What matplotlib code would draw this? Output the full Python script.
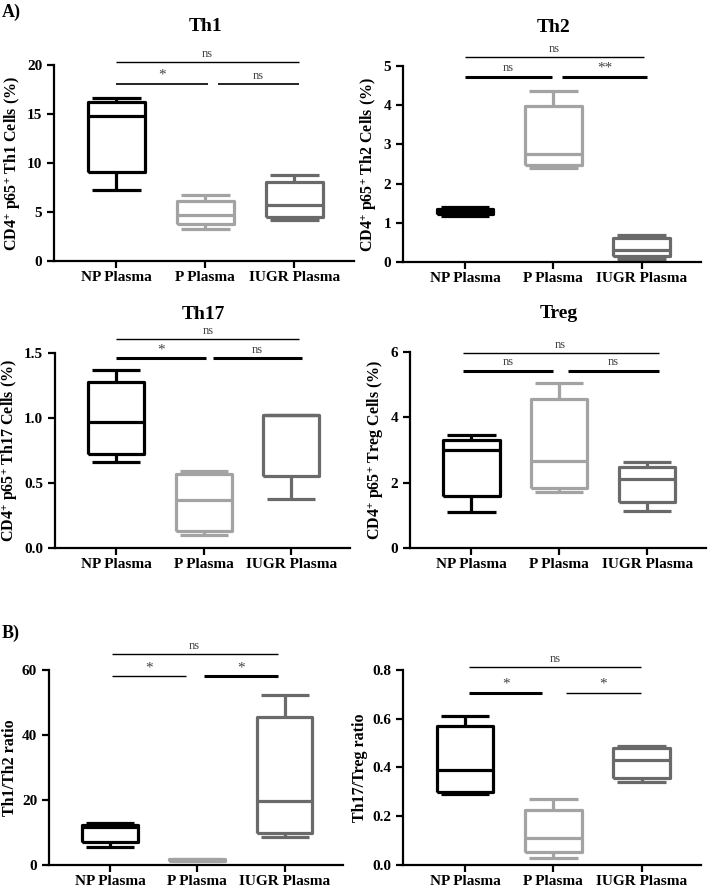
import matplotlib
matplotlib.use('Agg')
import matplotlib.pyplot as plt

plt.rcParams['font.family'] = ['Liberation Serif', 'DejaVu Serif']
plt.rcParams['font.weight'] = 'bold'
plt.rcParams['mathtext.fontset'] = 'custom'
plt.rcParams['mathtext.rm'] = 'Liberation Serif:bold'
plt.rcParams['mathtext.bf'] = 'Liberation Serif:bold'
plt.rcParams['mathtext.it'] = 'Liberation Serif:bold:italic'

groups = ['NP Plasma', 'P Plasma', 'IUGR Plasma']
colors = ['#000000', '#a3a3a3', '#6a6a6a']

# per group: whisker low, q1, median, q3, whisker high
th1 = [[7.2, 9.1, 14.8, 16.2, 16.6], [3.3, 3.8, 4.7, 6.1, 6.7], [4.2, 4.5, 5.7, 8.1, 8.8]]
th2 = [[1.17, 1.22, 1.28, 1.35, 1.40], [2.40, 2.48, 2.75, 3.97, 4.35], [0.08, 0.15, 0.31, 0.61, 0.70]]
th17 = [[0.66, 0.72, 0.97, 1.28, 1.37], [0.10, 0.13, 0.37, 0.57, 0.59], [0.38, 0.55, 1.02, 1.02, 1.02]]
treg = [[1.10, 1.60, 3.00, 3.30, 3.45], [1.70, 1.85, 2.65, 4.55, 5.05], [1.12, 1.42, 2.12, 2.47, 2.62]]
th1_th2 = [[5.5, 7.2, 11.8, 12.3, 13.0], [1.2, 1.3, 1.5, 1.8, 1.9], [8.5, 9.8, 19.8, 45.5, 52.3]]
th17_treg = [[0.29, 0.30, 0.39, 0.57, 0.61], [0.03, 0.055, 0.11, 0.225, 0.27], [0.34, 0.355, 0.43, 0.48, 0.49]]

th1_ticks = [0, 5, 10, 15, 20]
th2_ticks = [0, 1, 2, 3, 4, 5]
th17_ticks = ['0.0', '0.5', '1.0', '1.5']
treg_ticks = [0, 2, 4, 6]
th1_th2_ticks = [0, 20, 40, 60]
th17_treg_ticks = ['0.0', '0.2', '0.4', '0.6', '0.8']

# significance brackets: x0, x1, y, label, linewidth
th1_sig = [(0, 2.05, 20.3, 'ns', 1.0), (0, 1.03, 18.06, '*', 1.2), (1.14, 2.05, 18.06, 'ns', 1.2)]
th2_sig = [(0, 2.03, 5.22, 'ns', 1.0), (0, 0.98, 4.73, 'ns', 2.2), (1.10, 2.06, 4.73, '**', 2.2)]
th17_sig = [(0, 2.09, 1.605, 'ns', 1.0), (0, 1.02, 1.459, '*', 2.2), (1.10, 2.12, 1.459, 'ns', 2.2)]
treg_sig = [(-0.10, 2.13, 5.98, 'ns', 1.0), (-0.10, 0.93, 5.43, 'ns', 2.2), (1.10, 2.14, 5.43, 'ns', 2.2)]
th1_th2_sig = [(0.02, 1.92, 64.8, 'ns', 1.0), (0.02, 0.875, 58.0, '*', 1.0), (1.08, 1.93, 58.0, '*', 2.2)]
th17_treg_sig = [(0.05, 1.99, 0.812, 'ns', 1.0), (0.05, 0.87, 0.707, '*', 2.2), (1.14, 1.99, 0.707, '*', 1.0)]


def draw_panel(ax, data, ticks, ylabel, sig, title=None):
    stats = [dict(whislo=d[0], q1=d[1], med=d[2], q3=d[3], whishi=d[4], fliers=[]) for d in data]
    bp = ax.bxp(stats, positions=[0, 1, 2], widths=0.64, capwidths=0.55,
                showfliers=False, manage_ticks=False)
    for i, c in enumerate(colors):
        for art in [bp['boxes'][i], bp['medians'][i], bp['whiskers'][2*i], bp['whiskers'][2*i+1],
                    bp['caps'][2*i], bp['caps'][2*i+1]]:
            art.set_color(c)
            art.set_linewidth(2.3)
            art.set_solid_capstyle('butt')

    vals = [float(t) for t in ticks]
    ax.set_yticks(vals)
    ax.set_yticklabels([str(t) for t in ticks])
    ax.set_ylim(0, vals[-1])
    ax.set_xlim(-0.7, 2.67)
    ax.set_xticks([0, 1, 2])
    ax.set_xticklabels(groups)
    ax.spines['top'].set_visible(False)
    ax.spines['right'].set_visible(False)
    ax.spines['left'].set_linewidth(1.6)
    ax.spines['bottom'].set_linewidth(1.6)
    ax.tick_params(direction='out', length=5, width=1.6, labelsize=11)
    ax.tick_params(axis='x', pad=2.5)
    ax.set_ylabel(ylabel, fontsize=11.5, fontweight='bold', labelpad=3)

    for x0, x1, y, lab, lw in sig:
        ax.plot([x0, x1], [y, y], color='black', lw=lw, clip_on=False, solid_capstyle='butt')
        fs = 11 if lab.startswith('*') else 9
        ax.annotate(lab, xy=((x0 + x1) / 2, y), xytext=(0, 1.5), textcoords='offset points',
                    ha='center', va='bottom', fontsize=fs, fontweight='normal',
                    color='#444444', annotation_clip=False)

    if title:
        ax.text(1, 1.195, title, transform=ax.get_xaxis_transform(), ha='center', va='center',
                fontsize=14, fontweight='bold')


fig = plt.figure(figsize=(7.08, 8.91), dpi=100)

ax1 = fig.add_axes([0.0763, 0.7071, 0.4237, 0.22])
ax2 = fig.add_axes([0.5692, 0.706, 0.4209, 0.22])
ax3 = fig.add_axes([0.0777, 0.385, 0.4167, 0.2189])
ax4 = fig.add_axes([0.5791, 0.385, 0.418, 0.22])
ax5 = fig.add_axes([0.0692, 0.0292, 0.4153, 0.2189])
ax6 = fig.add_axes([0.5692, 0.0292, 0.4209, 0.2189])

sup = r'$^{{+}}$'
draw_panel(ax1, th1, th1_ticks, 'CD4' + sup + ' p65' + sup + ' Th1 Cells (%)', th1_sig, 'Th1')
draw_panel(ax2, th2, th2_ticks, 'CD4' + sup + ' p65' + sup + ' Th2 Cells (%)', th2_sig, 'Th2')
draw_panel(ax3, th17, th17_ticks, 'CD4' + sup + ' p65' + sup + ' Th17 Cells (%)', th17_sig, 'Th17')
draw_panel(ax4, treg, treg_ticks, 'CD4' + sup + ' p65' + sup + ' Treg Cells (%)', treg_sig, 'Treg')
draw_panel(ax5, th1_th2, th1_th2_ticks, 'Th1/Th2 ratio', th1_th2_sig)
draw_panel(ax6, th17_treg, th17_treg_ticks, 'Th17/Treg ratio', th17_treg_sig)

fig.text(0.003, 1 - 12 / 891, 'A)', fontsize=13, fontweight='bold', va='center', ha='left')
fig.text(0.003, 1 - 633 / 891, 'B)', fontsize=13, fontweight='bold', va='center', ha='left')

fig.savefig('out.png', dpi=100)
